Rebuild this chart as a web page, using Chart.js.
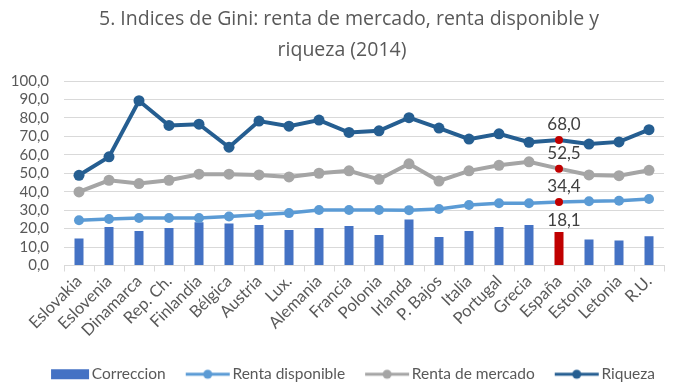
<!DOCTYPE html>
<html>
<head>
<meta charset="utf-8">
<script src="https://cdn.jsdelivr.net/npm/chart.js@4/dist/chart.umd.min.js"></script>
<style>
    html, body { margin: 0; padding: 0; background: #fff; }
    #wrap { width: 685px; height: 383px; overflow: hidden; }
</style>
</head>
<body>
<div id="wrap"><canvas id="giniChart" width="685" height="383"></canvas></div>
<script>
// Datos del gráfico
const titulo = ['5. Indices de Gini: renta de mercado, renta disponible y', 'riqueza (2014)'];
const paises = ['Eslovakia', 'Eslovenia', 'Dinamarca', 'Rep. Ch.', 'Finlandia', 'Bélgica', 'Austria', 'Lux.',
    'Alemania', 'Francia', 'Polonia', 'Irlanda', 'P. Bajos', 'Italia', 'Portugal', 'Grecia', 'España',
    'Estonia', 'Letonia', 'R.U.'];
const correccion = [14.7, 20.8, 18.7, 20.3, 23.4, 22.8, 21.9, 19.2, 20.3, 21.4, 16.5, 25.0, 15.4, 18.7, 20.8, 21.9, 18.1, 14.1, 13.6, 15.9];
const rentaDisponible = [24.5, 25.2, 25.7, 25.7, 25.7, 26.6, 27.5, 28.4, 30.1, 30.1, 30.1, 30.0, 30.6, 32.8, 33.7, 33.7, 34.4, 34.8, 35.1, 36.0];
const rentaMercado = [39.9, 46.2, 44.4, 46.2, 49.5, 49.5, 49.1, 48.0, 50.0, 51.3, 46.7, 55.1, 45.8, 51.3, 54.3, 56.2, 52.5, 49.1, 48.7, 51.6];
const riqueza = [48.9, 58.9, 89.3, 75.9, 76.6, 64.1, 78.3, 75.5, 78.8, 72.1, 73.0, 80.1, 74.5, 68.5, 71.4, 66.8, 68.0, 65.8, 67.0, 73.6];
const yTicks = [0, 10, 20, 30, 40, 50, 60, 70, 80, 90, 100];
const destacado = 'España';

// Colores
const ROJO = '#C00000';
const colores = {
    correccion: '#4472C4',
    disponible: '#5B9BD5',
    mercado: '#A5A5A5',
    riqueza: '#255E91'
};

const idxES = paises.indexOf(destacado);

// Formato con coma decimal
function fmt(v) {
    return v.toFixed(1).replace('.', ',');
}

// Colores por punto (España en rojo)
function porPunto(base, especial) {
    return paises.map((p, i) => i === idxES ? especial : base);
}

// Icono de la leyenda (rectángulo o línea con punto)
// se dibuja pegado a la derecha para acercar el texto
const ICONO_CAJA = 49;
function iconoLeyenda(tipo, color) {
    const w = ICONO_CAJA + 12, h = 14;
    const c = document.createElement('canvas');
    c.width = w;
    c.height = h;
    const ctx = c.getContext('2d');
    ctx.fillStyle = color;
    ctx.strokeStyle = color;
    if (tipo === 'bar') {
        ctx.fillRect(w - 39, 2, 38, 10);
    } else {
        ctx.lineWidth = 3;
        ctx.beginPath();
        ctx.moveTo(w - 45, 7);
        ctx.lineTo(w - 1, 7);
        ctx.stroke();
        ctx.beginPath();
        ctx.arc(w - 23, 7, 4.5, 0, Math.PI * 2);
        ctx.fill();
    }
    return c;
}

// Título en dos líneas
const tituloPlugin = {
    id: 'tituloGini',
    afterDraw(chart) {
        const ctx = chart.ctx;
        ctx.save();
        ctx.font = '19.5px "Open Sans"';
        ctx.fillStyle = '#595959';
        ctx.textAlign = 'center';
        ctx.textBaseline = 'alphabetic';
        ctx.fillText(titulo[0], 349, 25);
        ctx.fillText(titulo[1], 342, 56);
        ctx.restore();
    }
};

// Etiquetas de datos para España
const etiquetasPlugin = {
    id: 'etiquetasES',
    afterDatasetsDraw(chart) {
        const ctx = chart.ctx;
        ctx.save();
        ctx.font = '17px Lato';
        ctx.fillStyle = '#404040';
        ctx.textAlign = 'center';
        ctx.textBaseline = 'bottom';
        chart.data.datasets.forEach((ds, i) => {
            const el = chart.getDatasetMeta(i).data[idxES];
            if (!el) return;
            const off = ds.type === 'bar' ? 3 : 7;
            ctx.fillText(fmt(ds.data[idxES]), el.x + 5, el.y - off);
        });
        ctx.restore();
    }
};

function lineDataset(label, data, color, radio, ancho) {
    return {
        type: 'line',
        label: label,
        data: data,
        borderColor: color,
        backgroundColor: color,
        borderWidth: ancho,
        pointRadius: porPunto(radio, 4),
        pointBackgroundColor: porPunto(color, ROJO),
        pointBorderColor: porPunto(color, ROJO),
        pointBorderWidth: 0,
        tension: 0,
        order: 0
    };
}

const ctx = document.getElementById('giniChart').getContext('2d');
const chart = new Chart(ctx, {
    data: {
        labels: paises,
        datasets: [
            {
                type: 'bar',
                label: 'Correccion',
                data: correccion,
                backgroundColor: porPunto(colores.correccion, ROJO),
                barPercentage: 0.3,
                categoryPercentage: 1,
                order: 1
            },
            lineDataset('Renta disponible', rentaDisponible, colores.disponible, 5, 3.5),
            lineDataset('Renta de mercado', rentaMercado, colores.mercado, 5.5, 4),
            lineDataset('Riqueza', riqueza, colores.riqueza, 5.5, 4)
        ]
    },
    options: {
        responsive: false,
        animation: false,
        layout: {
            padding: { left: 10, right: 5, top: 81, bottom: -9 }
        },
        plugins: {
            title: { display: false },
            legend: {
                position: 'bottom',
                labels: {
                    usePointStyle: true,
                    pointStyleWidth: ICONO_CAJA,
                    boxHeight: 14,
                    padding: 10,
                    color: '#595959',
                    font: { family: 'Lato', size: 15.5 },
                    generateLabels: function(chart) {
                        return chart.data.datasets.map((ds, i) => ({
                            text: ds.label,
                            pointStyle: iconoLeyenda(ds.type, i === 0 ? colores.correccion : ds.borderColor),
                            fillStyle: 'transparent',
                            strokeStyle: 'transparent',
                            lineWidth: 0,
                            fontColor: '#595959',
                            datasetIndex: i
                        }));
                    }
                }
            },
            tooltip: { enabled: false }
        },
        scales: {
            x: {
                offset: true,
                afterFit: function(scale) {
                    // las etiquetas giradas pueden invadir la zona del eje Y
                    scale.paddingLeft = 0;
                    scale.paddingRight = 21;
                    scale.height = 91;
                },
                grid: {
                    display: true,
                    drawOnChartArea: false,
                    drawTicks: true,
                    tickLength: 6,
                    color: '#D9D9D9',
                    offset: true
                },
                border: { color: '#D9D9D9' },
                ticks: {
                    color: '#595959',
                    font: { family: 'Lato', size: 16.5 },
                    minRotation: 45,
                    maxRotation: 45,
                    autoSkip: false,
                    padding: 0
                }
            },
            y: {
                min: yTicks[0],
                max: yTicks[yTicks.length - 1],
                afterBuildTicks: function(axis) {
                    axis.ticks = yTicks.map(v => ({ value: v }));
                },
                afterFit: function(scale) {
                    scale.width = 54;
                },
                grid: {
                    color: '#D9D9D9',
                    drawTicks: false
                },
                border: { display: false },
                ticks: {
                    autoSkip: false,
                    color: '#595959',
                    font: { family: 'Lato', size: 15 },
                    padding: 15,
                    callback: v => fmt(v)
                }
            }
        }
    },
    plugins: [etiquetasPlugin, tituloPlugin]
});
</script>
</body>
</html>
